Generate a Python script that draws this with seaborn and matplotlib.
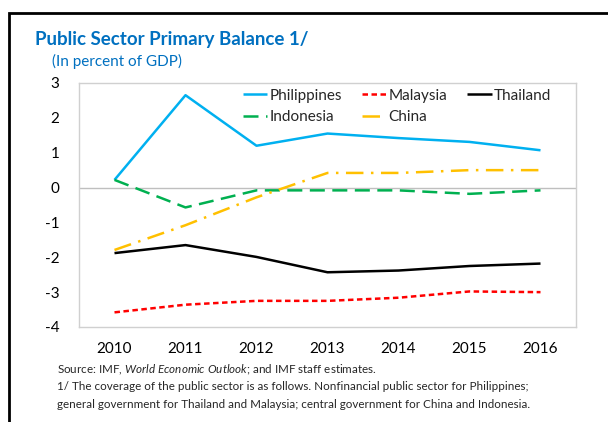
import matplotlib
matplotlib.use("Agg")
import matplotlib.pyplot as plt
import matplotlib.patches as mpatches
import numpy as np
import pandas as pd
import seaborn as sns

# data
years = ['2010', '2011', '2012', '2013', '2014', '2015', '2016']
philippines = [0.22, 2.65, 1.2, 1.55, 1.42, 1.31, 1.07]
malaysia = [-3.58, -3.36, -3.25, -3.25, -3.16, -2.98, -3.0]
thailand = [-1.88, -1.65, -1.99, -2.43, -2.38, -2.25, -2.18]
indonesia = [0.22, -0.57, -0.08, -0.08, -0.08, -0.18, -0.08]
china = [-1.79, -1.08, -0.28, 0.42, 0.42, 0.5, 0.5]

sns.set_style('white')
plt.rcParams['font.family'] = ['Lato', 'DejaVu Sans']
plt.rcParams['mathtext.fontset'] = 'custom'
plt.rcParams['mathtext.it'] = 'Lato:italic'
plt.rcParams['mathtext.rm'] = 'Lato'
plt.rcParams['axes.unicode_minus'] = False

fig = plt.figure(figsize=(6.08, 4.22), dpi=100)
ax = fig.add_axes([79 / 608, 1 - 327 / 422, 497 / 608, 244 / 422])

x = np.arange(len(years))
series = [
    ('Philippines', philippines, '#00B0F0', (0, ())),
    ('Malaysia', malaysia, '#FF0000', (0, (2.2, 1.4))),
    ('Thailand', thailand, '#000000', (0, ())),
    ('Indonesia', indonesia, '#00B050', (0, (6, 3))),
    ('China', china, '#FFC000', (0, (7, 3, 1, 3))),
]
ax.axhline(0, color='#BFBFBF', lw=1, zorder=1)
for name, vals, col, ls in series:
    sns.lineplot(x=x, y=vals, ax=ax, color=col, lw=1.8, label=name,
                 linestyle=ls, zorder=3)

ax.set_xlim(-0.5, 6.5)
ax.set_ylim(-4, 3)
ax.set_xticks(x)
ax.set_xticklabels(years)
ax.set_yticks(range(-4, 4))
ax.tick_params(axis='both', length=0, labelsize=11, colors='#000000')
ax.tick_params(axis='y', pad=14)
ax.tick_params(axis='x', pad=11)
for sp in ax.spines.values():
    sp.set_color('#D0D0D0')
    sp.set_linewidth(1)

# row-major legend order: Philippines, Malaysia, Thailand / Indonesia, China
h, l = ax.get_legend_handles_labels()
order = [0, 3, 1, 4, 2]
ax.legend([h[i] for i in order], [l[i] for i in order], ncol=3,
          loc='upper right', bbox_to_anchor=(0.972, 1.02), frameon=False,
          fontsize=11, handlelength=1.6, handletextpad=0.15, columnspacing=1.3,
          labelspacing=0.5, borderaxespad=0.3)

fig.text(35 / 608, 1 - 40 / 422, 'Public Sector Primary Balance 1/', color='#0070C0',
         fontsize=13.5, fontweight='bold', va='center')
fig.text(52 / 608, 1 - 61 / 422, '(In percent of GDP)', color='#0070C0',
         fontsize=11, va='center')

foot = [
    r'Source: IMF, $World\ Economic\ Outlook$; and IMF staff estimates.',
    '1/ The coverage of the public sector is as follows. Nonfinancial public sector for Philippines;',
    'general government for Thailand and Malaysia; central government for China and Indonesia.',
]
for i, t in enumerate(foot):
    fig.text(57 / 608, 1 - (370 + 17 * i) / 422, t, fontsize=8.4, va='center')

# outer frame (left and top edges visible)
fig.patches.append(mpatches.Rectangle((9 / 608, -0.1), 1.2, 1 - 13 / 422 + 0.1,
                                      transform=fig.transFigure, fill=False,
                                      edgecolor='black', lw=2))

fig.savefig('out.png', dpi=100)
